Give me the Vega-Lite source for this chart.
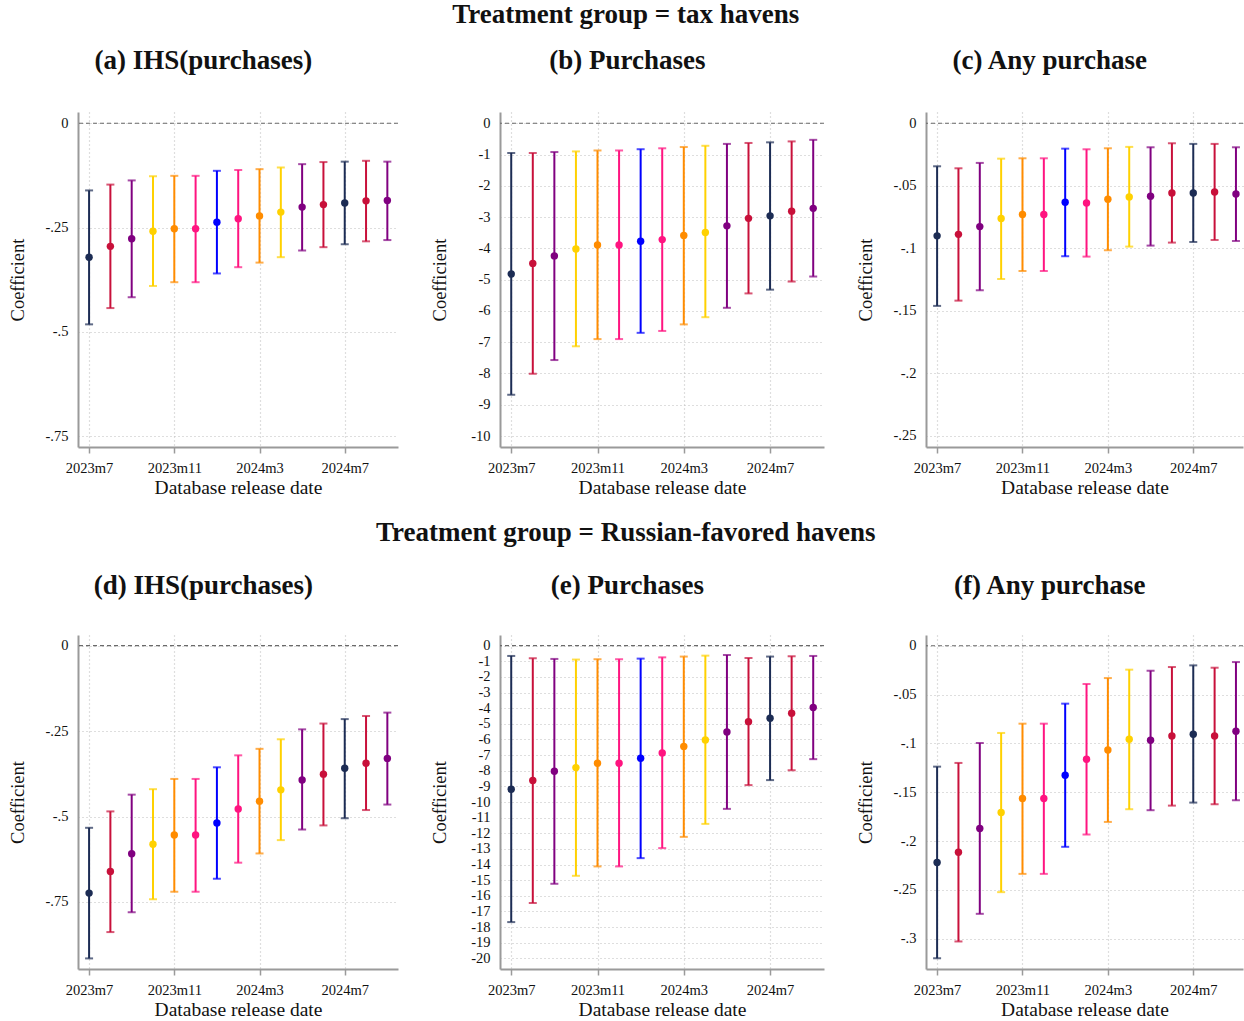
{
"$schema": "https://vega.github.io/schema/vega-lite/v6.json",
"padding": {"left": 8, "top": 1, "right": 0, "bottom": 0},
"data": {"values": [
{"p":"a","m":0,"b":-0.321,"lo":-0.482,"hi":-0.161},
{"p":"a","m":1,"b":-0.295,"lo":-0.443,"hi":-0.147},
{"p":"a","m":2,"b":-0.277,"lo":-0.417,"hi":-0.137},
{"p":"a","m":3,"b":-0.259,"lo":-0.390,"hi":-0.127},
{"p":"a","m":4,"b":-0.253,"lo":-0.381,"hi":-0.126},
{"p":"a","m":5,"b":-0.253,"lo":-0.381,"hi":-0.126},
{"p":"a","m":6,"b":-0.237,"lo":-0.360,"hi":-0.114},
{"p":"a","m":7,"b":-0.229,"lo":-0.345,"hi":-0.112},
{"p":"a","m":8,"b":-0.222,"lo":-0.334,"hi":-0.110},
{"p":"a","m":9,"b":-0.213,"lo":-0.321,"hi":-0.106},
{"p":"a","m":10,"b":-0.201,"lo":-0.305,"hi":-0.098},
{"p":"a","m":11,"b":-0.195,"lo":-0.297,"hi":-0.093},
{"p":"a","m":12,"b":-0.191,"lo":-0.290,"hi":-0.092},
{"p":"a","m":13,"b":-0.186,"lo":-0.283,"hi":-0.090},
{"p":"a","m":14,"b":-0.185,"lo":-0.280,"hi":-0.092},
{"p":"b","m":0,"b":-4.82,"lo":-8.68,"hi":-0.95},
{"p":"b","m":1,"b":-4.48,"lo":-8.01,"hi":-0.95},
{"p":"b","m":2,"b":-4.24,"lo":-7.57,"hi":-0.92},
{"p":"b","m":3,"b":-4.02,"lo":-7.13,"hi":-0.90},
{"p":"b","m":4,"b":-3.89,"lo":-6.90,"hi":-0.87},
{"p":"b","m":5,"b":-3.89,"lo":-6.90,"hi":-0.87},
{"p":"b","m":6,"b":-3.77,"lo":-6.70,"hi":-0.83},
{"p":"b","m":7,"b":-3.72,"lo":-6.64,"hi":-0.80},
{"p":"b","m":8,"b":-3.59,"lo":-6.43,"hi":-0.76},
{"p":"b","m":9,"b":-3.49,"lo":-6.20,"hi":-0.72},
{"p":"b","m":10,"b":-3.28,"lo":-5.90,"hi":-0.66},
{"p":"b","m":11,"b":-3.04,"lo":-5.44,"hi":-0.63},
{"p":"b","m":12,"b":-2.96,"lo":-5.32,"hi":-0.61},
{"p":"b","m":13,"b":-2.81,"lo":-5.06,"hi":-0.58},
{"p":"b","m":14,"b":-2.72,"lo":-4.90,"hi":-0.53},
{"p":"c","m":0,"b":-0.0900,"lo":-0.1460,"hi":-0.0344},
{"p":"c","m":1,"b":-0.0888,"lo":-0.1418,"hi":-0.0360},
{"p":"c","m":2,"b":-0.0826,"lo":-0.1335,"hi":-0.0317},
{"p":"c","m":3,"b":-0.0762,"lo":-0.1245,"hi":-0.0283},
{"p":"c","m":4,"b":-0.0730,"lo":-0.1181,"hi":-0.0280},
{"p":"c","m":5,"b":-0.0730,"lo":-0.1181,"hi":-0.0280},
{"p":"c","m":6,"b":-0.0632,"lo":-0.1063,"hi":-0.0203},
{"p":"c","m":7,"b":-0.0637,"lo":-0.1066,"hi":-0.0208},
{"p":"c","m":8,"b":-0.0608,"lo":-0.1015,"hi":-0.0200},
{"p":"c","m":9,"b":-0.0589,"lo":-0.0986,"hi":-0.0189},
{"p":"c","m":10,"b":-0.0584,"lo":-0.0978,"hi":-0.0192},
{"p":"c","m":11,"b":-0.0557,"lo":-0.0954,"hi":-0.0160},
{"p":"c","m":12,"b":-0.0557,"lo":-0.0949,"hi":-0.0165},
{"p":"c","m":13,"b":-0.0549,"lo":-0.0933,"hi":-0.0165},
{"p":"c","m":14,"b":-0.0565,"lo":-0.0941,"hi":-0.0192},
{"p":"d","m":0,"b":-0.724,"lo":-0.915,"hi":-0.533},
{"p":"d","m":1,"b":-0.661,"lo":-0.838,"hi":-0.485},
{"p":"d","m":2,"b":-0.609,"lo":-0.780,"hi":-0.436},
{"p":"d","m":3,"b":-0.581,"lo":-0.742,"hi":-0.420},
{"p":"d","m":4,"b":-0.554,"lo":-0.720,"hi":-0.390},
{"p":"d","m":5,"b":-0.554,"lo":-0.720,"hi":-0.390},
{"p":"d","m":6,"b":-0.519,"lo":-0.682,"hi":-0.356},
{"p":"d","m":7,"b":-0.478,"lo":-0.635,"hi":-0.321},
{"p":"d","m":8,"b":-0.455,"lo":-0.608,"hi":-0.302},
{"p":"d","m":9,"b":-0.422,"lo":-0.569,"hi":-0.274},
{"p":"d","m":10,"b":-0.393,"lo":-0.538,"hi":-0.245},
{"p":"d","m":11,"b":-0.376,"lo":-0.526,"hi":-0.228},
{"p":"d","m":12,"b":-0.359,"lo":-0.505,"hi":-0.215},
{"p":"d","m":13,"b":-0.344,"lo":-0.481,"hi":-0.206},
{"p":"d","m":14,"b":-0.330,"lo":-0.465,"hi":-0.196},
{"p":"e","m":0,"b":-9.18,"lo":-17.68,"hi":-0.66},
{"p":"e","m":1,"b":-8.63,"lo":-16.46,"hi":-0.81},
{"p":"e","m":2,"b":-8.03,"lo":-15.23,"hi":-0.85},
{"p":"e","m":3,"b":-7.80,"lo":-14.72,"hi":-0.89},
{"p":"e","m":4,"b":-7.52,"lo":-14.12,"hi":-0.87},
{"p":"e","m":5,"b":-7.52,"lo":-14.12,"hi":-0.87},
{"p":"e","m":6,"b":-7.20,"lo":-13.59,"hi":-0.83},
{"p":"e","m":7,"b":-6.86,"lo":-12.95,"hi":-0.75},
{"p":"e","m":8,"b":-6.45,"lo":-12.23,"hi":-0.70},
{"p":"e","m":9,"b":-6.03,"lo":-11.40,"hi":-0.64},
{"p":"e","m":10,"b":-5.52,"lo":-10.44,"hi":-0.60},
{"p":"e","m":11,"b":-4.86,"lo":-8.92,"hi":-0.79},
{"p":"e","m":12,"b":-4.64,"lo":-8.60,"hi":-0.70},
{"p":"e","m":13,"b":-4.32,"lo":-7.97,"hi":-0.68},
{"p":"e","m":14,"b":-3.96,"lo":-7.26,"hi":-0.66},
{"p":"f","m":0,"b":-0.2220,"lo":-0.3200,"hi":-0.1238},
{"p":"f","m":1,"b":-0.2114,"lo":-0.3028,"hi":-0.1200},
{"p":"f","m":2,"b":-0.1872,"lo":-0.2745,"hi":-0.0996},
{"p":"f","m":3,"b":-0.1708,"lo":-0.2523,"hi":-0.0893},
{"p":"f","m":4,"b":-0.1565,"lo":-0.2336,"hi":-0.0798},
{"p":"f","m":5,"b":-0.1565,"lo":-0.2336,"hi":-0.0798},
{"p":"f","m":6,"b":-0.1326,"lo":-0.2059,"hi":-0.0593},
{"p":"f","m":7,"b":-0.1163,"lo":-0.1933,"hi":-0.0392},
{"p":"f","m":8,"b":-0.1067,"lo":-0.1804,"hi":-0.0331},
{"p":"f","m":9,"b":-0.0958,"lo":-0.1674,"hi":-0.0245},
{"p":"f","m":10,"b":-0.0968,"lo":-0.1684,"hi":-0.0256},
{"p":"f","m":11,"b":-0.0924,"lo":-0.1637,"hi":-0.0218},
{"p":"f","m":12,"b":-0.0907,"lo":-0.1606,"hi":-0.0201},
{"p":"f","m":13,"b":-0.0924,"lo":-0.1623,"hi":-0.0225},
{"p":"f","m":14,"b":-0.0876,"lo":-0.1582,"hi":-0.0167}
]},
"spacing": 22,
"vconcat": [
{"title": {"text": "Treatment group = tax havens", "offset": 18},
 "bounds": "flush", "spacing": 102,
 "hconcat": [
  {"width": 320, "height": 335, "title": {"text": "(a) IHS(purchases)", "frame": "bounds"},
   "transform": [{"filter": "datum.p === 'a'"}],
   "layer": [
    {"mark": {"type": "rule", "strokeWidth": 2},
     "encoding": {
      "x": {"field": "m", "type": "quantitative", "scale": {"domain": [-0.52, 14.5], "nice": false, "zero": false}, "axis": {"values": [0, 4, 8, 12], "tickCount": 30, "labelExpr": "datum.value == 0 ? '2023m7' : datum.value == 4 ? '2023m11' : datum.value == 8 ? '2024m3' : '2024m7'", "title": "Database release date"}},
      "y": {"field": "lo", "type": "quantitative", "scale": {"domain": [-0.776, 0.027], "nice": false, "zero": false}, "axis": {"values": [0, -0.25, -0.5, -0.75], "tickCount": 30, "labelOverlap": false, "labelExpr": "replace(toString(datum.value), '0.', '.')", "title": "Coefficient"}},
      "y2": {"field": "hi"},
      "color": {"field": "m", "type": "nominal", "scale": {"domain": [0,1,2,3,4,5,6,7,8,9,10,11,12,13,14], "range": ["#1c2c54","#c8103a","#800080","#ffd100","#ff8c00","#ff1480","#0000ff","#ff1480","#ff8c00","#ffd100","#800080","#c8103a","#1c2c54","#c8103a","#800080"]}, "legend": null}}},
    {"transform": [{"filter": "datum.m === 0"}], "mark": {"type": "rule", "strokeDash": [4, 3], "color": "#6a6a6a", "strokeWidth": 1.2},
     "encoding": {"y": {"datum": 0, "type": "quantitative"}}},
    {"mark": {"type": "tick", "orient": "horizontal", "size": 8, "thickness": 2},
     "encoding": {"x": {"field": "m", "type": "quantitative"}, "y": {"field": "lo", "type": "quantitative"}, "color": {"field": "m", "type": "nominal", "legend": null}}},
    {"mark": {"type": "tick", "orient": "horizontal", "size": 8, "thickness": 2},
     "encoding": {"x": {"field": "m", "type": "quantitative"}, "y": {"field": "hi", "type": "quantitative"}, "color": {"field": "m", "type": "nominal", "legend": null}}},
    {"mark": {"type": "point", "filled": true, "size": 55, "opacity": 1},
     "encoding": {"x": {"field": "m", "type": "quantitative"}, "y": {"field": "b", "type": "quantitative"}, "color": {"field": "m", "type": "nominal", "legend": null}}}
   ]},
  {"width": 324, "height": 335, "title": {"text": "(b) Purchases", "frame": "bounds"},
   "transform": [{"filter": "datum.p === 'b'"}],
   "layer": [
    {"mark": {"type": "rule", "strokeWidth": 2},
     "encoding": {
      "x": {"field": "m", "type": "quantitative", "scale": {"domain": [-0.52, 14.5], "nice": false, "zero": false}, "axis": {"values": [0, 4, 8, 12], "tickCount": 30, "labelExpr": "datum.value == 0 ? '2023m7' : datum.value == 4 ? '2023m11' : datum.value == 8 ? '2024m3' : '2024m7'", "title": "Database release date"}},
      "y": {"field": "lo", "type": "quantitative", "scale": {"domain": [-10.35, 0.36], "nice": false, "zero": false}, "axis": {"values": [0, -1, -2, -3, -4, -5, -6, -7, -8, -9, -10], "tickCount": 30, "labelOverlap": false, "labelExpr": "replace(toString(datum.value), '0.', '.')", "title": "Coefficient"}},
      "y2": {"field": "hi"},
      "color": {"field": "m", "type": "nominal", "scale": {"domain": [0,1,2,3,4,5,6,7,8,9,10,11,12,13,14], "range": ["#1c2c54","#c8103a","#800080","#ffd100","#ff8c00","#ff1480","#0000ff","#ff1480","#ff8c00","#ffd100","#800080","#c8103a","#1c2c54","#c8103a","#800080"]}, "legend": null}}},
    {"transform": [{"filter": "datum.m === 0"}], "mark": {"type": "rule", "strokeDash": [4, 3], "color": "#6a6a6a", "strokeWidth": 1.2},
     "encoding": {"y": {"datum": 0, "type": "quantitative"}}},
    {"mark": {"type": "tick", "orient": "horizontal", "size": 8, "thickness": 2},
     "encoding": {"x": {"field": "m", "type": "quantitative"}, "y": {"field": "lo", "type": "quantitative"}, "color": {"field": "m", "type": "nominal", "legend": null}}},
    {"mark": {"type": "tick", "orient": "horizontal", "size": 8, "thickness": 2},
     "encoding": {"x": {"field": "m", "type": "quantitative"}, "y": {"field": "hi", "type": "quantitative"}, "color": {"field": "m", "type": "nominal", "legend": null}}},
    {"mark": {"type": "point", "filled": true, "size": 55, "opacity": 1},
     "encoding": {"x": {"field": "m", "type": "quantitative"}, "y": {"field": "b", "type": "quantitative"}, "color": {"field": "m", "type": "nominal", "legend": null}}}
   ]},
  {"width": 317, "height": 335, "title": {"text": "(c) Any purchase", "frame": "bounds"},
   "transform": [{"filter": "datum.p === 'c'"}],
   "layer": [
    {"mark": {"type": "rule", "strokeWidth": 2},
     "encoding": {
      "x": {"field": "m", "type": "quantitative", "scale": {"domain": [-0.52, 14.33], "nice": false, "zero": false}, "axis": {"values": [0, 4, 8, 12], "tickCount": 30, "labelExpr": "datum.value == 0 ? '2023m7' : datum.value == 4 ? '2023m11' : datum.value == 8 ? '2024m3' : '2024m7'", "title": "Database release date"}},
      "y": {"field": "lo", "type": "quantitative", "scale": {"domain": [-0.2588, 0.009], "nice": false, "zero": false}, "axis": {"values": [0, -0.05, -0.1, -0.15, -0.2, -0.25], "tickCount": 30, "labelOverlap": false, "labelExpr": "replace(toString(datum.value), '0.', '.')", "title": "Coefficient"}},
      "y2": {"field": "hi"},
      "color": {"field": "m", "type": "nominal", "scale": {"domain": [0,1,2,3,4,5,6,7,8,9,10,11,12,13,14], "range": ["#1c2c54","#c8103a","#800080","#ffd100","#ff8c00","#ff1480","#0000ff","#ff1480","#ff8c00","#ffd100","#800080","#c8103a","#1c2c54","#c8103a","#800080"]}, "legend": null}}},
    {"transform": [{"filter": "datum.m === 0"}], "mark": {"type": "rule", "strokeDash": [4, 3], "color": "#6a6a6a", "strokeWidth": 1.2},
     "encoding": {"y": {"datum": 0, "type": "quantitative"}}},
    {"mark": {"type": "tick", "orient": "horizontal", "size": 8, "thickness": 2},
     "encoding": {"x": {"field": "m", "type": "quantitative"}, "y": {"field": "lo", "type": "quantitative"}, "color": {"field": "m", "type": "nominal", "legend": null}}},
    {"mark": {"type": "tick", "orient": "horizontal", "size": 8, "thickness": 2},
     "encoding": {"x": {"field": "m", "type": "quantitative"}, "y": {"field": "hi", "type": "quantitative"}, "color": {"field": "m", "type": "nominal", "legend": null}}},
    {"mark": {"type": "point", "filled": true, "size": 55, "opacity": 1},
     "encoding": {"x": {"field": "m", "type": "quantitative"}, "y": {"field": "b", "type": "quantitative"}, "color": {"field": "m", "type": "nominal", "legend": null}}}
   ]}
 ]},
{"title": {"text": "Treatment group = Russian-favored havens", "offset": 25},
 "bounds": "flush", "spacing": 102,
 "hconcat": [
  {"width": 320, "height": 334, "title": {"text": "(d) IHS(purchases)", "frame": "bounds", "offset": 35},
   "transform": [{"filter": "datum.p === 'd'"}],
   "layer": [
    {"mark": {"type": "rule", "strokeWidth": 2},
     "encoding": {
      "x": {"field": "m", "type": "quantitative", "scale": {"domain": [-0.52, 14.5], "nice": false, "zero": false}, "axis": {"values": [0, 4, 8, 12], "tickCount": 30, "labelExpr": "datum.value == 0 ? '2023m7' : datum.value == 4 ? '2023m11' : datum.value == 8 ? '2024m3' : '2024m7'", "title": "Database release date"}},
      "y": {"field": "lo", "type": "quantitative", "scale": {"domain": [-0.946, 0.031], "nice": false, "zero": false}, "axis": {"values": [0, -0.25, -0.5, -0.75], "tickCount": 30, "labelOverlap": false, "labelExpr": "replace(toString(datum.value), '0.', '.')", "title": "Coefficient"}},
      "y2": {"field": "hi"},
      "color": {"field": "m", "type": "nominal", "scale": {"domain": [0,1,2,3,4,5,6,7,8,9,10,11,12,13,14], "range": ["#1c2c54","#c8103a","#800080","#ffd100","#ff8c00","#ff1480","#0000ff","#ff1480","#ff8c00","#ffd100","#800080","#c8103a","#1c2c54","#c8103a","#800080"]}, "legend": null}}},
    {"transform": [{"filter": "datum.m === 0"}], "mark": {"type": "rule", "strokeDash": [4, 3], "color": "#6a6a6a", "strokeWidth": 1.2},
     "encoding": {"y": {"datum": 0, "type": "quantitative"}}},
    {"mark": {"type": "tick", "orient": "horizontal", "size": 8, "thickness": 2},
     "encoding": {"x": {"field": "m", "type": "quantitative"}, "y": {"field": "lo", "type": "quantitative"}, "color": {"field": "m", "type": "nominal", "legend": null}}},
    {"mark": {"type": "tick", "orient": "horizontal", "size": 8, "thickness": 2},
     "encoding": {"x": {"field": "m", "type": "quantitative"}, "y": {"field": "hi", "type": "quantitative"}, "color": {"field": "m", "type": "nominal", "legend": null}}},
    {"mark": {"type": "point", "filled": true, "size": 55, "opacity": 1},
     "encoding": {"x": {"field": "m", "type": "quantitative"}, "y": {"field": "b", "type": "quantitative"}, "color": {"field": "m", "type": "nominal", "legend": null}}}
   ]},
  {"width": 324, "height": 334, "title": {"text": "(e) Purchases", "frame": "bounds", "offset": 35},
   "transform": [{"filter": "datum.p === 'e'"}],
   "layer": [
    {"mark": {"type": "rule", "strokeWidth": 2},
     "encoding": {
      "x": {"field": "m", "type": "quantitative", "scale": {"domain": [-0.52, 14.5], "nice": false, "zero": false}, "axis": {"values": [0, 4, 8, 12], "tickCount": 30, "labelExpr": "datum.value == 0 ? '2023m7' : datum.value == 4 ? '2023m11' : datum.value == 8 ? '2024m3' : '2024m7'", "title": "Database release date"}},
      "y": {"field": "lo", "type": "quantitative", "scale": {"domain": [-20.68, 0.68], "nice": false, "zero": false}, "axis": {"values": [0, -1, -2, -3, -4, -5, -6, -7, -8, -9, -10, -11, -12, -13, -14, -15, -16, -17, -18, -19, -20], "tickCount": 30, "labelOverlap": false, "labelExpr": "replace(toString(datum.value), '0.', '.')", "title": "Coefficient"}},
      "y2": {"field": "hi"},
      "color": {"field": "m", "type": "nominal", "scale": {"domain": [0,1,2,3,4,5,6,7,8,9,10,11,12,13,14], "range": ["#1c2c54","#c8103a","#800080","#ffd100","#ff8c00","#ff1480","#0000ff","#ff1480","#ff8c00","#ffd100","#800080","#c8103a","#1c2c54","#c8103a","#800080"]}, "legend": null}}},
    {"transform": [{"filter": "datum.m === 0"}], "mark": {"type": "rule", "strokeDash": [4, 3], "color": "#6a6a6a", "strokeWidth": 1.2},
     "encoding": {"y": {"datum": 0, "type": "quantitative"}}},
    {"mark": {"type": "tick", "orient": "horizontal", "size": 8, "thickness": 2},
     "encoding": {"x": {"field": "m", "type": "quantitative"}, "y": {"field": "lo", "type": "quantitative"}, "color": {"field": "m", "type": "nominal", "legend": null}}},
    {"mark": {"type": "tick", "orient": "horizontal", "size": 8, "thickness": 2},
     "encoding": {"x": {"field": "m", "type": "quantitative"}, "y": {"field": "hi", "type": "quantitative"}, "color": {"field": "m", "type": "nominal", "legend": null}}},
    {"mark": {"type": "point", "filled": true, "size": 55, "opacity": 1},
     "encoding": {"x": {"field": "m", "type": "quantitative"}, "y": {"field": "b", "type": "quantitative"}, "color": {"field": "m", "type": "nominal", "legend": null}}}
   ]},
  {"width": 317, "height": 334, "title": {"text": "(f) Any purchase", "frame": "bounds", "offset": 35},
   "transform": [{"filter": "datum.p === 'f'"}],
   "layer": [
    {"mark": {"type": "rule", "strokeWidth": 2},
     "encoding": {
      "x": {"field": "m", "type": "quantitative", "scale": {"domain": [-0.52, 14.33], "nice": false, "zero": false}, "axis": {"values": [0, 4, 8, 12], "tickCount": 30, "labelExpr": "datum.value == 0 ? '2023m7' : datum.value == 4 ? '2023m11' : datum.value == 8 ? '2024m3' : '2024m7'", "title": "Database release date"}},
      "y": {"field": "lo", "type": "quantitative", "scale": {"domain": [-0.331, 0.011], "nice": false, "zero": false}, "axis": {"values": [0, -0.05, -0.1, -0.15, -0.2, -0.25, -0.3], "tickCount": 30, "labelOverlap": false, "labelExpr": "replace(toString(datum.value), '0.', '.')", "title": "Coefficient"}},
      "y2": {"field": "hi"},
      "color": {"field": "m", "type": "nominal", "scale": {"domain": [0,1,2,3,4,5,6,7,8,9,10,11,12,13,14], "range": ["#1c2c54","#c8103a","#800080","#ffd100","#ff8c00","#ff1480","#0000ff","#ff1480","#ff8c00","#ffd100","#800080","#c8103a","#1c2c54","#c8103a","#800080"]}, "legend": null}}},
    {"transform": [{"filter": "datum.m === 0"}], "mark": {"type": "rule", "strokeDash": [4, 3], "color": "#6a6a6a", "strokeWidth": 1.2},
     "encoding": {"y": {"datum": 0, "type": "quantitative"}}},
    {"mark": {"type": "tick", "orient": "horizontal", "size": 8, "thickness": 2},
     "encoding": {"x": {"field": "m", "type": "quantitative"}, "y": {"field": "lo", "type": "quantitative"}, "color": {"field": "m", "type": "nominal", "legend": null}}},
    {"mark": {"type": "tick", "orient": "horizontal", "size": 8, "thickness": 2},
     "encoding": {"x": {"field": "m", "type": "quantitative"}, "y": {"field": "hi", "type": "quantitative"}, "color": {"field": "m", "type": "nominal", "legend": null}}},
    {"mark": {"type": "point", "filled": true, "size": 55, "opacity": 1},
     "encoding": {"x": {"field": "m", "type": "quantitative"}, "y": {"field": "b", "type": "quantitative"}, "color": {"field": "m", "type": "nominal", "legend": null}}}
   ]}
 ]}
],
"config": {
 "view": {"stroke": null},
 "font": "Liberation Serif",
 "axis": {"domainColor": "#9a9a9a", "domainWidth": 2, "labelFont": "Liberation Serif", "labelFontSize": 14.5, "labelColor": "#111111", "labelOverlap": false, "titleFont": "Liberation Serif", "titleFontSize": 18.5, "titleFontWeight": "normal", "titleColor": "#111111", "grid": true, "gridColor": "#bdbdbd", "gridDash": [1, 3], "gridWidth": 1.2, "tickColor": "#9a9a9a", "tickWidth": 1.5},
 "axisY": {"ticks": false, "tickSize": 0, "labelPadding": 10, "titleX": -51},
 "axisX": {"tickSize": 6, "labelPadding": 8, "titlePadding": 4, "titleFontSize": 19.5},
 "title": {"font": "Liberation Serif", "fontSize": 27, "fontWeight": "bold", "color": "#111111", "anchor": "middle", "offset": 37}
}
}
